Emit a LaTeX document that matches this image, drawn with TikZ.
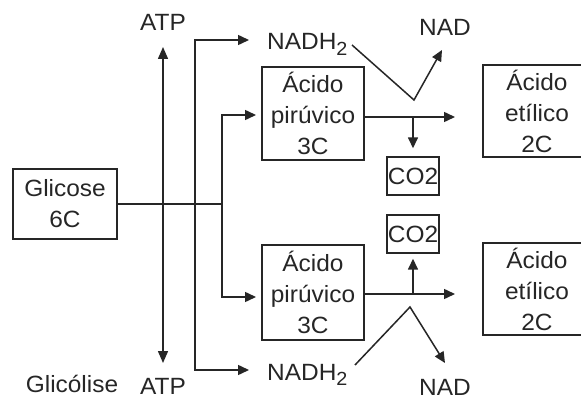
\documentclass[tikz,border=0pt]{standalone}
\usepackage{fontspec}
\setmainfont{Liberation Sans}[FakeStretch=1.04]
\usetikzlibrary{arrows.meta}
\definecolor{ink}{HTML}{262626}
\begin{document}
\begin{tikzpicture}[x=1pt,y=-1pt,
  txt/.style={font=\fontsize{23.5}{31}\selectfont, text=ink},
  box/.style={txt, draw=ink, line width=1.4pt, inner sep=0pt, align=center},
  lbl/.style={txt, inner sep=0pt, align=center},
  ln/.style={draw=ink, line width=1.5pt},
  arr/.style={ln, -{Triangle[length=11pt,width=10pt]}},
  dbl/.style={ln, {Triangle[length=12pt,width=10pt]}-{Triangle[length=12pt,width=10pt]}}]
\useasboundingbox[fill=white] (0,0) rectangle (581,401);

% nodes
\node[box, minimum width=104pt, minimum height=70pt] (glic) at (65,204) {Glicose\\6C};
\node[lbl] (atp1) at (163,22) {ATP};
\node[lbl] (atp2) at (163,386) {ATP};
\node[lbl] (glicolise) at (72,384) {Glicólise};
\node[lbl, anchor=base west] (nadh1) at (267,50) {NADH\raisebox{-0.45ex}{\fontsize{19}{19}\selectfont 2}};
\node[lbl, anchor=base west] (nadh2) at (267,380) {NADH\raisebox{-0.45ex}{\fontsize{19}{19}\selectfont 2}};
\node[box, minimum width=102pt, minimum height=93pt] (pyr1) at (313,113.5) {Ácido\\pirúvico\\3C};
\node[box, minimum width=102pt, minimum height=95pt] (pyr2) at (313,292.5) {Ácido\\pirúvico\\3C};
\node[box, minimum width=52pt, minimum height=38pt] (co2a) at (413,176) {CO2};
\node[box, minimum width=52pt, minimum height=38pt] (co2b) at (413,234) {CO2};
\node[lbl] (eta1) at (537,111) {Ácido\\etílico\\2C};
\node[lbl] (eta2) at (537,289) {Ácido\\etílico\\2C};
\node[lbl] (nad1) at (445,27) {NAD};
\node[lbl] (nad2) at (445,387) {NAD};

% open frames of the right boxes
\draw[ln, line width=1.4pt] (581,65) -- (483,65) -- (483,157) -- (581,157);
\draw[ln, line width=1.4pt] (581,243) -- (483,243) -- (483,335) -- (581,335);

% coordinates
\coordinate (j) at (222,204);
\coordinate (atpT) at (163,47);
\coordinate (atpB) at (163,363);
\coordinate (nT) at (249,40);
\coordinate (nB) at (249,370);
\coordinate (pT) at (256,115);
\coordinate (pB) at (256,297);
\coordinate (hT) at (455,117);
\coordinate (hB) at (455,294);
\coordinate (cT) at (413,117);
\coordinate (cB) at (413,294);
\coordinate (vT) at (414,100);
\coordinate (vB) at (410,307);
\coordinate (nadT) at (442,50);
\coordinate (nadB) at (445,363);
\coordinate (sT) at (352,45);
\coordinate (sB) at (355,365);

% connectors
\draw[ln] (glic.east) -- (j);
\draw[dbl] (atpT) -- (atpB);
\draw[arr] (195,204) |- (nT);
\draw[arr] (195,204) |- (nB);
\draw[arr] (j) |- (pT);
\draw[arr] (j) |- (pB);
\draw[arr] (pyr1.east |- hT) -- (hT);
\draw[arr] (pyr2.east |- hB) -- (hB);
\draw[arr, shorten >=8pt] (cT) -- (co2a.north);
\draw[arr, shorten >=5pt] (cB) -- (co2b.south);
\draw[arr] (sT) -- (vT) -- (nadT);
\draw[arr] (sB) -- (vB) -- (nadB);
\end{tikzpicture}
\end{document}
